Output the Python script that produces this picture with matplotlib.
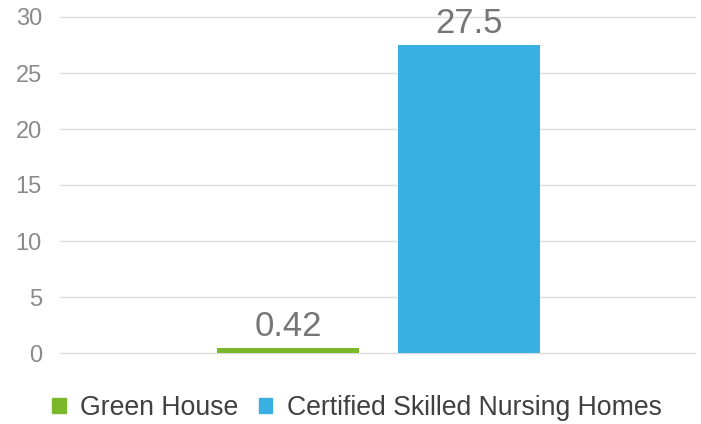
import matplotlib.pyplot as plt
from matplotlib.patches import Patch

plt.rcParams['font.family'] = ['Liberation Sans', 'DejaVu Sans']

series = ["Green House", "Certified Skilled Nursing Homes"]
values = [0.42, 27.5]
value_labels = ["0.42", "27.5"]
colors = ["#79B82A", "#3AAFE1"]
yticks = [0, 5, 10, 15, 20, 25, 30]

fig = plt.figure(figsize=(7.01, 4.24), dpi=100)
ax = fig.add_axes([60 / 701, 71 / 424, 635 / 701, 336 / 424])

xs = list(range(len(series)))
ax.bar(xs, values, width=0.78, color=colors, zorder=3)
for x, v, lab in zip(xs, values, value_labels):
    ax.text(x, v + 0.45, lab, ha="center", va="bottom", fontsize=25, color="#767676")

ax.set_xlim(-1.26, 2.249)
ax.set_ylim(0, 30)
ax.set_yticks(yticks)
ax.set_yticklabels([str(t) for t in yticks], fontsize=17, color="#8a8a8a")
ax.set_xticks([])
ax.yaxis.grid(True, color="#dcdcdc", linewidth=1, zorder=0)
for gl in ax.get_ygridlines():
    gl.set_clip_on(False)
ax.tick_params(axis="y", length=0, pad=13)
for s in ax.spines.values():
    s.set_visible(False)

handles = [Patch(color=c, label=s) for c, s in zip(colors, series)]
fig.legend(handles=handles, loc="center", bbox_to_anchor=(357 / 701, 1 - 408 / 424),
           ncol=2, frameon=False, fontsize=19.2, handlelength=0.5, handleheight=0.5,
           handletextpad=0.55, columnspacing=0.75, labelcolor="#404040")

fig.savefig("out.png", dpi=100)
